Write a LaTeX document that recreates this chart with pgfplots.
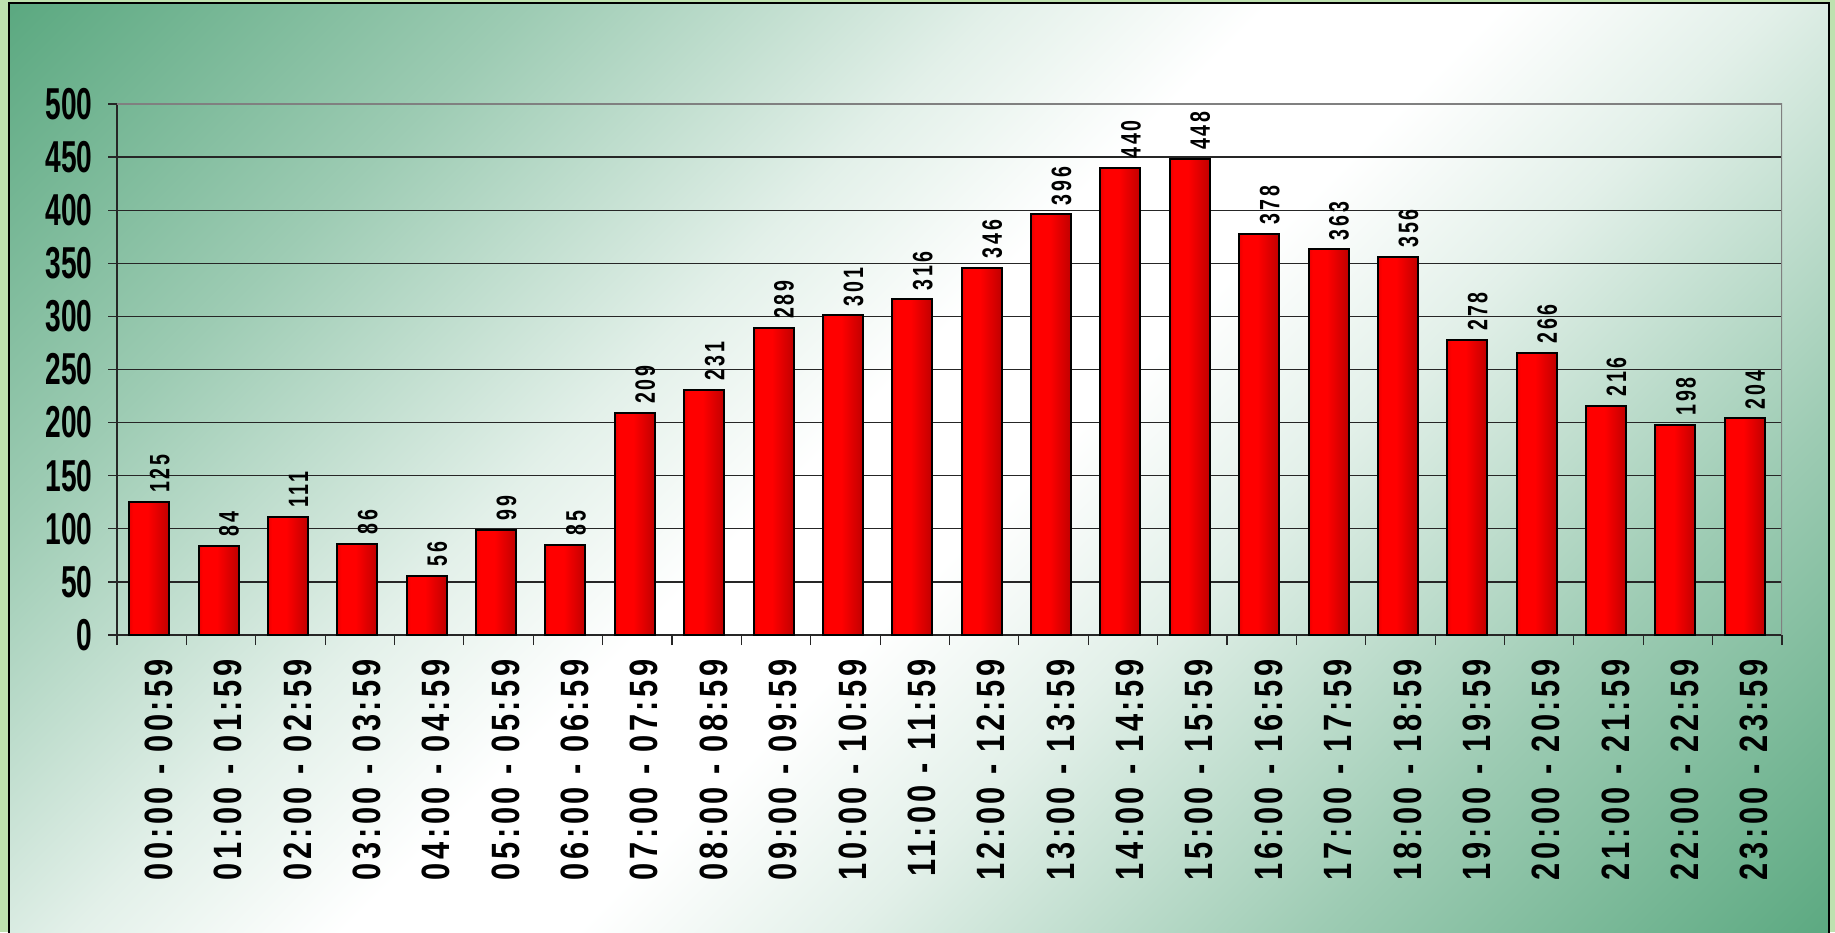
\documentclass[border=0pt]{standalone}
\usepackage{fontspec}
\usepackage{pgfplots}
\pgfplotsset{compat=1.18}
\setmainfont{Liberation Sans}
\newfontfamily\ytfont[FakeStretch=0.63]{Liberation Sans}
\newfontfamily\xtfont[FakeStretch=0.78, LetterSpace=9]{Liberation Sans}
\newfontfamily\dlfont[FakeStretch=0.7, LetterSpace=10]{Liberation Sans}

\definecolor{bgg}{RGB}{52,148,98}
\definecolor{edgegreen}{RGB}{190,225,175}
\definecolor{darkred}{RGB}{135,0,0}
\colorlet{bgA}{bgg!82!white}
\colorlet{bgB}{bgg!48!white}
\colorlet{bgC}{bgg!14!white}
\pgfdeclareverticalshading{bgshade}{100bp}{color(0bp)=(bgg); color(14bp)=(bgA); color(28bp)=(bgB); color(40bp)=(bgC); color(47bp)=(white); color(53bp)=(white); color(60bp)=(bgC); color(72bp)=(bgB); color(86bp)=(bgA); color(100bp)=(bgg)}
\pgfdeclarehorizontalshading{barshade}{100bp}{color(0bp)=(darkred); color(30bp)=(red); color(48bp)=(red); color(100bp)=(darkred)}

\pgfplotsset{hourbar/.style={ybar, bar width=40pt, bar shift=-2.5pt, draw=black, line width=2pt, shading=barshade, forget plot}}

\begin{document}
\begin{tikzpicture}
\path[use as bounding box] (0,0) rectangle (1835pt,932pt);
\fill[edgegreen] (0,0) rectangle (1835pt,932pt);
\shade[shading=bgshade, shading angle=45] (9pt,-10pt) rectangle (1829pt,929pt);
\draw[black, line width=2pt] (9pt,-10pt) -- (9pt,929pt) -- (1829pt,929pt) -- (1829pt,-10pt);

\begin{axis}[
    at={(117pt,297pt)}, anchor=south west,
    scale only axis, width=1665pt, height=531pt,
    xmin=-0.5, xmax=23.5, ymin=0, ymax=500,
    axis lines*=left,
    axis line style={black!85, line width=1.5pt},
    ytick={0,50,...,500},
    ymajorgrids, grid style={black!85, line width=1.2pt},
    xtick={0,...,23},
    xticklabels={00:00 - 00:59,01:00 - 01:59,02:00 - 02:59,03:00 - 03:59,04:00 - 04:59,05:00 - 05:59,06:00 - 06:59,07:00 - 07:59,08:00 - 08:59,09:00 - 09:59,10:00 - 10:59,11:00 - 11:59,12:00 - 12:59,13:00 - 13:59,14:00 - 14:59,15:00 - 15:59,16:00 - 16:59,17:00 - 17:59,18:00 - 18:59,19:00 - 19:59,20:00 - 20:59,21:00 - 21:59,22:00 - 22:59,23:00 - 23:59},
    minor xtick={-0.5,0.5,...,23.5},
    major x tick style={draw=none},
    minor x tick style={black!85, line width=1.2pt},
    ytick style={black!85, line width=1.2pt},
    tick align=outside,
    major tick length=9pt, minor tick length=10pt,
    yticklabel style={font={\fontsize{44.7}{48}\ytfont\bfseries}, /pgf/number format/assume math mode=true, xshift=-12pt},
    xticklabel style={font={\fontsize{39.5}{42}\xtfont\bfseries}, rotate=90, anchor=east, xshift=-12pt, yshift=-7pt},
    nodes near coords,
    nodes near coords align=horizontal,
    nodes near coords style={font={\fontsize{28}{30}\dlfont\bfseries}, xshift=8pt, yshift=5pt, rotate=90, anchor=west, /pgf/number format/assume math mode=true},
]
\addplot[hourbar] coordinates {(0,125)};
\addplot[hourbar] coordinates {(1,84)};
\addplot[hourbar] coordinates {(2,111)};
\addplot[hourbar] coordinates {(3,86)};
\addplot[hourbar] coordinates {(4,56)};
\addplot[hourbar] coordinates {(5,99)};
\addplot[hourbar] coordinates {(6,85)};
\addplot[hourbar] coordinates {(7,209)};
\addplot[hourbar] coordinates {(8,231)};
\addplot[hourbar] coordinates {(9,289)};
\addplot[hourbar] coordinates {(10,301)};
\addplot[hourbar] coordinates {(11,316)};
\addplot[hourbar] coordinates {(12,346)};
\addplot[hourbar] coordinates {(13,396)};
\addplot[hourbar] coordinates {(14,440)};
\addplot[hourbar] coordinates {(15,448)};
\addplot[hourbar] coordinates {(16,378)};
\addplot[hourbar] coordinates {(17,363)};
\addplot[hourbar] coordinates {(18,356)};
\addplot[hourbar] coordinates {(19,278)};
\addplot[hourbar] coordinates {(20,266)};
\addplot[hourbar] coordinates {(21,216)};
\addplot[hourbar] coordinates {(22,198)};
\addplot[hourbar] coordinates {(23,204)};
\draw[gray, line width=1.5pt] (rel axis cs:0,1) -- (rel axis cs:1,1) -- (rel axis cs:1,0);
\end{axis}
\end{tikzpicture}
\end{document}
